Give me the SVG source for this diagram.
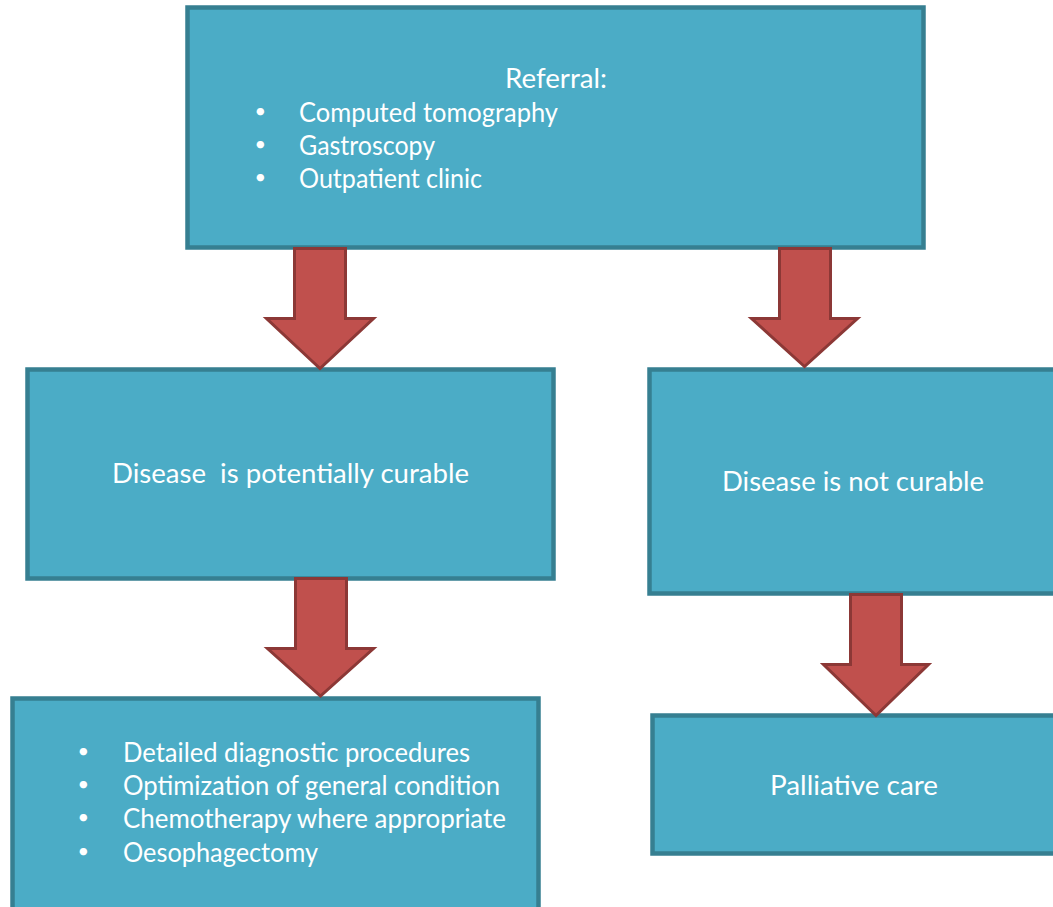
<svg xmlns="http://www.w3.org/2000/svg" width="1053" height="907" viewBox="0 0 1053 907">
<style>
.box{fill:#4BACC6;stroke:#367F91;stroke-width:4.5}
.arr{fill:#C0504D;stroke:#8C3836;stroke-width:3;stroke-linejoin:miter}
text{font-family:Lato,"Open Sans","Liberation Sans",sans-serif;font-size:27px;fill:#FFFFFF;white-space:pre}
text.bul{font-size:20px}
</style>
<rect width="1053" height="907" fill="#FFFFFF"/>
<g id="referral">
<rect class="box" x="187.5" y="7.5" width="736" height="240"/>
<text x="505" y="88" textLength="102" lengthAdjust="spacingAndGlyphs">Referral:</text>
<text class="bul" x="254.5" y="118">•</text>
<text x="299" y="122" textLength="259" lengthAdjust="spacingAndGlyphs">Computed tomography</text>
<text class="bul" x="254.5" y="151">•</text>
<text x="299" y="155" textLength="136" lengthAdjust="spacingAndGlyphs">Gastroscopy</text>
<text class="bul" x="254.5" y="184">•</text>
<text x="299" y="188" textLength="183" lengthAdjust="spacingAndGlyphs">Outpatient clinic</text>
</g>
<g id="curable">
<rect class="box" x="27.5" y="369.5" width="526" height="209"/>
<text x="112" y="483" textLength="357" lengthAdjust="spacingAndGlyphs">Disease  is potentially curable</text>
</g>
<g id="notcurable">
<rect class="box" x="649.5" y="369.5" width="420" height="224"/>
<text x="722" y="491" textLength="262" lengthAdjust="spacingAndGlyphs">Disease is not curable</text>
</g>
<g id="treatment">
<rect class="box" x="12.5" y="698.5" width="526" height="230"/>
<text class="bul" x="77.5" y="758">•</text>
<text x="123" y="762" textLength="347" lengthAdjust="spacingAndGlyphs">Detailed diagnostic procedures</text>
<text class="bul" x="77.5" y="791">•</text>
<text x="123" y="795" textLength="377" lengthAdjust="spacingAndGlyphs">Optimization of general condition</text>
<text class="bul" x="77.5" y="824">•</text>
<text x="123" y="828" textLength="383" lengthAdjust="spacingAndGlyphs">Chemotherapy where appropriate</text>
<text class="bul" x="77.5" y="858">•</text>
<text x="123" y="862" textLength="195" lengthAdjust="spacingAndGlyphs">Oesophagectomy</text>
</g>
<g id="palliative">
<rect class="box" x="652.5" y="715.5" width="420" height="138"/>
<text x="770" y="795" textLength="168" lengthAdjust="spacingAndGlyphs">Palliative care</text>
</g>
<g id="connectors">
<polygon class="arr" points="294.5,248.5 345.5,248.5 345.5,318.5 373.5,318.5 320,368.5 266.5,318.5 294.5,318.5"/>
<polygon class="arr" points="779.5,248.5 830.5,248.5 830.5,318.5 857.5,318.5 804.5,366.5 751.5,318.5 779.5,318.5"/>
<polygon class="arr" points="295.5,578.5 346.5,578.5 346.5,648.5 373.5,648.5 320.5,696 267.5,648.5 295.5,648.5"/>
<polygon class="arr" points="850.5,594.5 901.5,594.5 901.5,664.5 928.5,664.5 876,715.5 823.5,664.5 850.5,664.5"/>
</g>
</svg>
